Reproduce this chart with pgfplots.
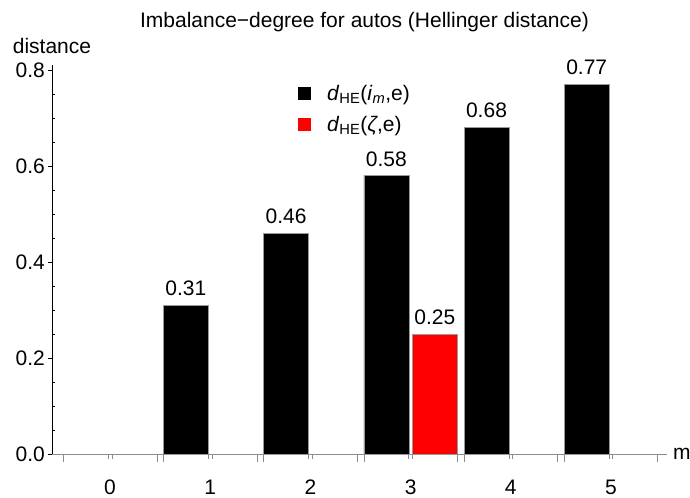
\documentclass[border=0pt]{standalone}
\usepackage{fontspec}
\setmainfont{Liberation Sans}
\usepackage{pgfplots}
\pgfplotsset{compat=1.18}
\newcommand\cf{\fontsize{21bp}{24bp}\selectfont}
\begin{document}
\begin{tikzpicture}
\path[use as bounding box] (0,0) rectangle (690bp,498bp);
\begin{axis}[
  at={(52bp,44bp)}, anchor=south west,
  scale only axis, width=615bp, height=389bp,
  xmin=-0.579, xmax=5.559, ymin=0, ymax=0.81,
  clip=false,
  axis x line=bottom, axis y line=left,
  x axis line style={-, draw=black!45, line width=0.6bp},
  y axis line style={-, draw=black, line width=0.6bp},
  xtick={0,1,2,3,4,5}, xticklabels={0,1,2,3,4,5},
  x tick style={draw=none},
  ytick={0,0.2,0.4,0.6,0.8},
  minor y tick num=3,
  y tick style={black, line width=0.5bp},
  tick align=outside,
  major tick length=4bp, minor tick length=3bp,
  minor y tick style={xshift=3bp},
  yticklabel style={/pgf/number format/fixed, /pgf/number format/fixed zerofill, /pgf/number format/precision=1, /pgf/number format/assume math mode=true,
    font=\cf, inner sep=0pt, anchor=east, xshift=-3bp},
  xticklabel style={font=\cf, inner sep=0pt, anchor=north, yshift=-22bp},
  title={Imbalance−degree for autos (Hellinger distance)},
  every axis title/.style={at={(axis description cs:0.5,1)}, anchor=base, yshift=38bp, xshift=5bp, font=\cf, inner sep=0pt},
  ylabel={distance},
  every axis y label/.style={at={(axis description cs:0,1)}, anchor=base, yshift=12bp, font=\cf, inner sep=0pt},
  xlabel={m},
  every axis x label/.style={at={(axis description cs:1,0)}, anchor=west, xshift=6bp, font=\cf, inner sep=0pt},
  legend style={draw=none, fill=none, at={(axis cs:1.876,0.768)}, anchor=north west,
    inner sep=0pt, outer sep=0pt, row sep=14bp, font=\cf, nodes={inner sep=0pt}},
  legend cell align=left,
  sq legend/.style={legend image code/.code={\draw[##1, draw=none] (0bp,-6.5bp) rectangle (13bp,6.5bp); \path (29bp,0bp);}},
  every node near coord/.append style={text=black, anchor=south, inner sep=0pt, yshift=9bp, font=\cf},
]
% black bars: m = 1..5, drawn in the left half of each group (offset -0.2425)
\addplot[ybar, bar width=0.449, bar shift=0, fill=black, draw=black!40, line width=0.5bp, sq legend,
  nodes near coords, point meta=explicit symbolic]
  coordinates {(0.7575,0.31)[0.31] (1.7575,0.46)[0.46] (2.7575,0.58)[0.58] (3.7575,0.68)[0.68] (4.7575,0.77)[0.77]};
\addlegendentry{\textit{d}\textsubscript{HE}(\textit{i}\textsubscript{\textit{m}},e)}
% red bar: m = 3, right half of the group (offset +0.2425)
\addplot[ybar, bar width=0.449, bar shift=0, fill=red, draw=black!40, line width=0.5bp, sq legend,
  nodes near coords, point meta=explicit symbolic]
  coordinates {(3.2425,0.25)[0.25]};
\addlegendentry{\textit{d}\textsubscript{HE}(\textit{ζ},e)}
\pgfplotsinvokeforeach{-0.467,0.467,0.533,1.467,1.533,2.467,2.533,3.467,3.533,4.467,4.533,5.467}{
  \draw[black!45, line width=0.6bp] (axis cs:#1,0) -- ++(0bp,-8bp);}
\pgfplotsinvokeforeach{-0.018,0.018,0.982,1.018,1.982,2.018,2.982,3.018,3.982,4.018,4.982,5.018}{
  \draw[black!45, line width=0.6bp] (axis cs:#1,0) -- ++(0bp,-5bp);}
\end{axis}
\end{tikzpicture}
\end{document}
